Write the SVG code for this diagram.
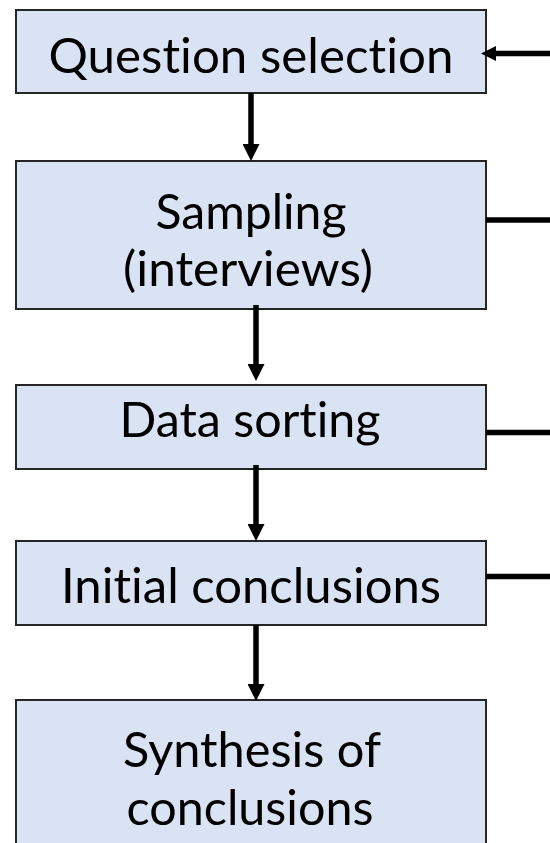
<svg xmlns="http://www.w3.org/2000/svg" width="550" height="843" viewBox="0 0 550 843">
<style>
.box{fill:#DAE3F3;stroke:#262626;stroke-width:2}
.lbl{font-family:Lato,"Open Sans","Liberation Sans",sans-serif;font-size:48px;fill:#000;text-anchor:middle;font-variant-ligatures:none;font-feature-settings:"liga" 0,"clig" 0}
.con{stroke:#000;stroke-width:5.5;fill:none}
</style>
<defs>
<marker id="ah" markerWidth="17" markerHeight="17" refX="0" refY="8.5" orient="auto" markerUnits="userSpaceOnUse">
<path d="M0,0 L17,8.5 L0,17 z" fill="#000"/>
</marker>
<marker id="ah2" markerWidth="15" markerHeight="15" refX="0" refY="7.5" orient="auto" markerUnits="userSpaceOnUse">
<path d="M0,0 L15,7.5 L0,15 z" fill="#000"/>
</marker>
</defs>
<rect width="550" height="843" fill="#fff"/>
<g id="node-question">
<rect class="box" x="16" y="10" width="470" height="83"/>
<text class="lbl" x="251" y="73" textLength="405" lengthAdjust="spacingAndGlyphs">Question selection</text>
</g>
<g id="node-sampling">
<rect class="box" x="16" y="161" width="470" height="148"/>
<text class="lbl" x="251" y="229" textLength="191" lengthAdjust="spacingAndGlyphs">Sampling</text>
<text class="lbl" x="248" y="286" textLength="250" lengthAdjust="spacingAndGlyphs">(interviews)</text>
</g>
<g id="node-sorting">
<rect class="box" x="16" y="385" width="470" height="84"/>
<text class="lbl" x="250" y="437" textLength="261" lengthAdjust="spacingAndGlyphs">Data sorting</text>
</g>
<g id="node-initial">
<rect class="box" x="16" y="541" width="470" height="84"/>
<text class="lbl" x="251" y="603" textLength="380" lengthAdjust="spacingAndGlyphs">Initial conclusions</text>
</g>
<g id="node-synthesis">
<rect class="box" x="16" y="700" width="470" height="160"/>
<text class="lbl" x="252" y="767" textLength="258" lengthAdjust="spacingAndGlyphs">Synthesis of</text>
<text class="lbl" x="250" y="825" textLength="247" lengthAdjust="spacingAndGlyphs">conclusions</text>
</g>
<g id="connectors">
<path class="con" d="M251,93 V144" marker-end="url(#ah)"/>
<path class="con" d="M256,305 V364" marker-end="url(#ah)"/>
<path class="con" d="M256,465 V524" marker-end="url(#ah)"/>
<path class="con" d="M256,625 V684" marker-end="url(#ah)"/>
<path class="con" d="M550,53.5 H496" marker-end="url(#ah2)"/>
<path class="con" d="M486,220 H550"/>
<path class="con" d="M486,432.5 H550"/>
<path class="con" d="M486,576.5 H550"/>
</g>
</svg>
